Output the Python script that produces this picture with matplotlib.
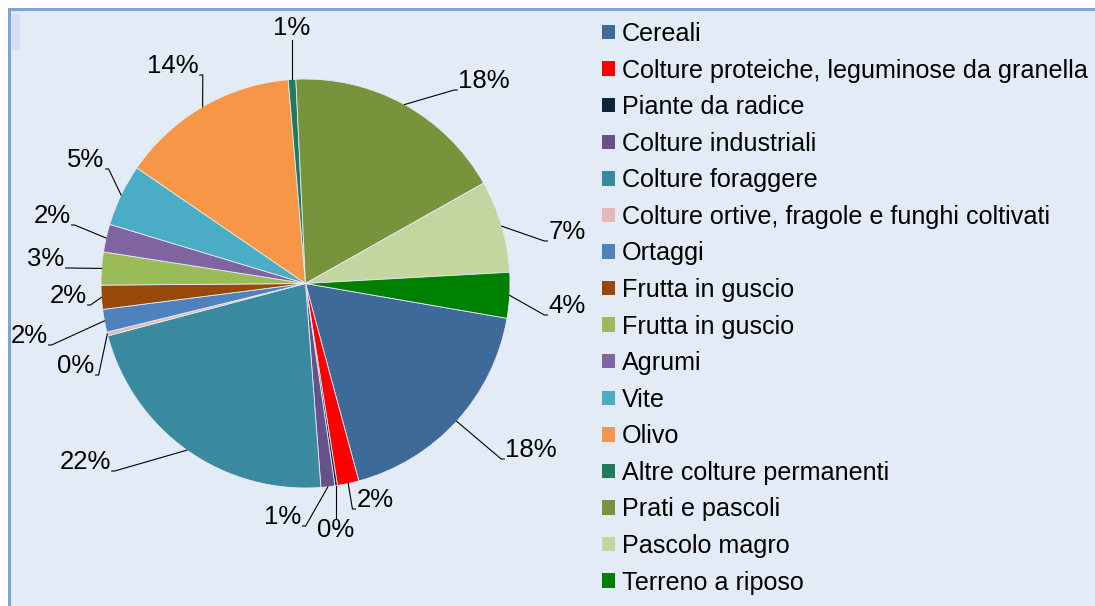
import matplotlib
matplotlib.use("Agg")
import matplotlib.pyplot as plt
from matplotlib.patches import Rectangle
import numpy as np

plt.rcParams['font.family'] = ['Liberation Sans', 'DejaVu Sans']

categories = [
    "Cereali",
    "Colture proteiche, leguminose da granella",
    "Piante da radice",
    "Colture industriali",
    "Colture foraggere",
    "Colture ortive, fragole e funghi coltivati",
    "Ortaggi",
    "Frutta in guscio",
    "Frutta in guscio",
    "Agrumi",
    "Vite",
    "Olivo",
    "Altre colture permanenti",
    "Prati e pascoli",
    "Pascolo magro",
    "Terreno a riposo",
]
values = [18.1, 1.7, 0.2, 1.1, 22.1, 0.3, 1.8, 1.9, 2.6, 2.2, 4.9, 14.1, 0.6, 17.6, 7.3, 3.6]
colors = ["#3E6A9A", "#FF0000", "#10243F", "#66518A", "#3A8A9F", "#E6B9B8",
          "#4F81BD", "#984807", "#9BBB59", "#8064A2", "#4BACC6", "#F79646",
          "#217A5C", "#77933C", "#C4D6A0", "#008000"]

# label text centres (pixel coords, y downward) - layout only
label_pos = [(531, 450), (375, 500), (336, 530), (283, 517), (85, 462), (76, 366),
             (29, 336), (68, 296), (46, 259), (52, 216), (86, 160), (173, 66),
             (292, 28), (484, 81), (567, 232), (567, 306)]

W, H = 1095, 606
fig = plt.figure(figsize=(W / 100, H / 100), dpi=100)
fig.patch.set_facecolor("white")
ax = fig.add_axes([0, 0, 1, 1])
ax.set_xlim(0, W)
ax.set_ylim(0, H)
ax.axis("off")

# chart area background + border
ax.add_patch(Rectangle((9, -20), W + 20, H - 9 + 20, facecolor="#E3EBF6",
                       edgecolor="#7FA3D8", lw=2.2, zorder=0))
ax.add_patch(Rectangle((12, H - 50), 8, 36, facecolor="#D5DFF1",
                       edgecolor="none", zorder=0.5))

cx, cy, R = 305.5, H - 283.5, 204.5
total = sum(values)
wedges, _ = ax.pie(values, colors=colors, startangle=-9.8, counterclock=False,
                   center=(cx, cy), radius=R, frame=True,
                   wedgeprops=dict(linewidth=0.6, edgecolor="#E3EBF6"))
ax.set_xlim(0, W)
ax.set_ylim(0, H)
ax.set_aspect("auto")
ax.axis("off")

fig.canvas.draw()
renderer = fig.canvas.get_renderer()
for w, v, (px, py) in zip(wedges, values, label_pos):
    mid = np.deg2rad((w.theta1 + w.theta2) / 2)
    ax_ = cx + R * np.cos(mid)
    ay_ = cy + R * np.sin(mid)
    txt = ax.text(px, H - py, f"{v / total * 100:.0f}%", ha="center", va="center",
                  fontsize=18.5, color="black", zorder=5)
    bb = txt.get_window_extent(renderer).transformed(ax.transData.inverted())
    left, right, bottom, top = bb.x0, bb.x1, bb.y0 + 3, bb.y1 - 3
    if abs(px - ax_) < 12:
        ey = bottom - 3 if (H - py) > ay_ else top + 3
        ax.plot([ax_, ax_], [ay_, ey], color="black", lw=0.8, zorder=4)
    elif px > ax_:
        ax.plot([ax_, left - 4, left - 1], [ay_, bottom, bottom], color="black", lw=0.8, zorder=4)
    else:
        ax.plot([ax_, right + 4, right + 1], [ay_, bottom, bottom], color="black", lw=0.8, zorder=4)

leg = ax.legend(wedges, categories, loc="upper left", bbox_to_anchor=(602, H - 22),
                bbox_transform=ax.transData, frameon=False, fontsize=18.1,
                handlelength=0.51, handleheight=0.51, handletextpad=0.28,
                labelspacing=0.5, borderpad=0, borderaxespad=0)
for h in leg.legend_handles:
    h.set_edgecolor("none")

fig.savefig("out.png", dpi=100, facecolor="white")
